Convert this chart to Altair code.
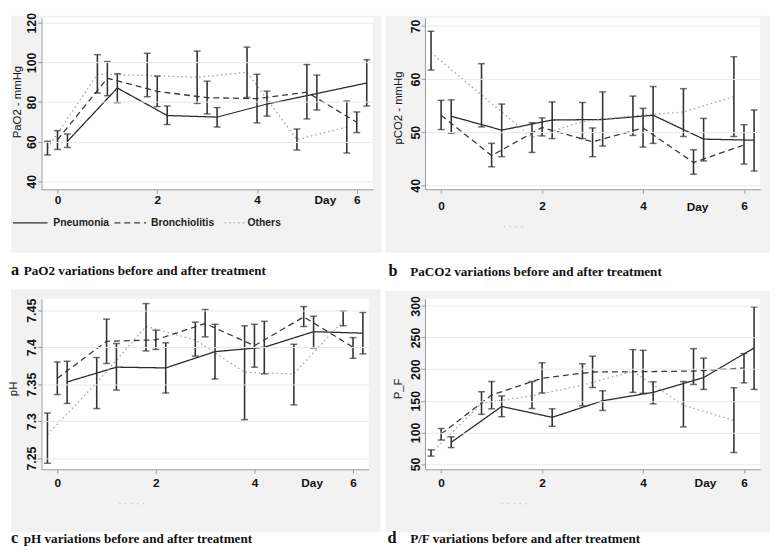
import altair as alt
import pandas as pd

days = [0, 1, 2, 3, 4, 5, 6]
groups = ["Pneumonia", "Bronchiolitis", "Others"]
offsets = {"Pneumonia": 0.2, "Bronchiolitis": 0.0, "Others": -0.2}

# ---- PaO2 ----
pao2_mean = {
    "Pneumonia": [60.2, 87.1, 73.2, 72.4, 79.0, 84.3, 89.6],
    "Bronchiolitis": [61.0, 92.0, 85.4, 82.2, 81.7, 85.0, 69.8],
    "Others": [56.8, 94.0, 93.4, 92.5, 95.0, 61.1, 67.4],
}
pao2_lo = {
    "Pneumonia": [57.1, 79.7, 68.7, 67.4, 72.9, 76.0, 78.0],
    "Bronchiolitis": [56.1, 83.2, 77.7, 74.0, 69.5, 71.5, 64.6],
    "Others": [53.3, 84.5, 82.7, 79.3, 82.3, 55.8, 54.3],
}
pao2_hi = {
    "Pneumonia": [63.9, 94.3, 78.0, 77.2, 85.5, 93.6, 101.4],
    "Bronchiolitis": [65.6, 100.4, 93.1, 90.5, 94.0, 98.9, 75.0],
    "Others": [60.2, 103.9, 104.6, 105.7, 107.7, 66.4, 80.5],
}

# ---- PaCO2 ----
paco2_mean = {
    "Pneumonia": [53.0, 50.4, 52.3, 52.4, 53.2, 48.7, 48.5],
    "Bronchiolitis": [53.2, 45.6, 50.9, 48.2, 50.8, 44.3, 47.6],
    "Others": [65.0, 57.0, 49.0, 52.0, 53.1, 53.8, 56.7],
}
paco2_lo = {
    "Pneumonia": [49.8, 45.4, 48.8, 47.4, 47.9, 44.6, 42.7],
    "Bronchiolitis": [50.5, 43.5, 49.3, 45.4, 47.2, 42.1, 44.0],
    "Others": [61.7, 51.0, 46.2, 48.8, 49.4, 49.2, 49.2],
}
paco2_hi = {
    "Pneumonia": [56.1, 55.3, 55.7, 57.6, 58.6, 52.6, 54.2],
    "Bronchiolitis": [56.0, 47.9, 52.7, 50.8, 54.5, 46.7, 51.4],
    "Others": [69.0, 62.9, 51.8, 55.6, 56.8, 58.2, 64.2],
}

# ---- pH ----
ph_mean = {
    "Pneumonia": [7.353, 7.373, 7.372, 7.394, 7.400, 7.421, 7.419],
    "Bronchiolitis": [7.358, 7.408, 7.410, 7.432, 7.402, 7.441, 7.400],
    "Others": [7.282, 7.352, 7.428, 7.410, 7.366, 7.364, 7.436],
}
ph_lo = {
    "Pneumonia": [7.324, 7.342, 7.338, 7.357, 7.364, 7.399, 7.391],
    "Bronchiolitis": [7.336, 7.378, 7.397, 7.414, 7.373, 7.428, 7.385],
    "Others": [7.243, 7.317, 7.395, 7.388, 7.302, 7.322, 7.429],
}
ph_hi = {
    "Pneumonia": [7.381, 7.405, 7.406, 7.431, 7.435, 7.442, 7.447],
    "Bronchiolitis": [7.380, 7.438, 7.423, 7.451, 7.431, 7.455, 7.413],
    "Others": [7.311, 7.386, 7.459, 7.434, 7.429, 7.404, 7.449],
}

# ---- P/F ----
pf_mean = {
    "Pneumonia": [84.3, 141.0, 123.8, 150.0, 163.3, 186.7, 233.5],
    "Bronchiolitis": [97.3, 159.1, 185.7, 195.5, 196.0, 197.0, 201.8],
    "Others": [67.0, 146.0, 158.0, 174.7, 196.6, 143.0, 119.0],
}
pf_lo = {
    "Pneumonia": [76.0, 124.8, 109.8, 134.7, 145.1, 168.0, 168.0],
    "Bronchiolitis": [87.9, 137.3, 162.3, 171.0, 161.7, 175.8, 178.4],
    "Others": [62.5, 128.5, 137.8, 142.0, 163.3, 108.7, 68.2],
}
pf_hi = {
    "Pneumonia": [93.1, 157.6, 137.3, 165.9, 180.0, 217.4, 298.4],
    "Bronchiolitis": [106.1, 180.5, 210.1, 220.5, 229.8, 232.4, 224.6],
    "Others": [72.4, 164.3, 180.5, 208.5, 230.9, 180.5, 170.6],
}

captions = {
    "a": "PaO2 variations before and after treatment",
    "b": "PaCO2 variations before and after treatment",
    "c": "pH variations before and after treatment",
    "d": "P/F variations before and after treatment",
}

SANS = "Liberation Sans"
SERIF = "Liberation Serif"
AXIS_C = "#9a9a9a"
BAR_C = "#333333"


def make_df(means, los, his):
    rows = []
    for g in groups:
        for d, m, l, h in zip(days, means[g], los[g], his[g]):
            rows.append(dict(group=g, day=d, x=d + offsets[g], mean=m, lo=l, hi=h))
    return pd.DataFrame(rows)


def one():
    return alt.Data(values=[{}])


def panel(df, w, h, ydom, yticks, yfmt, ytitle, ytitle_x, ytitle_y,
          lab_pad, day_x, day_y, gray, letter, letter_x, cap_x, cap_y,
          legend=False, artifact=None):
    xs = alt.Scale(domain=[-0.32, 6.32], nice=False, zero=False)
    ys = alt.Scale(domain=ydom, nice=False, zero=False)
    xaxis = alt.Axis(values=[0, 2, 4, 6], title="Day", titleX=day_x, titleY=day_y,
                     titleAngle=0, titleAlign="center", titleBaseline="middle",
                     titleFont=SANS, titleFontWeight="bold", titleFontSize=12,
                     titleColor="#111",
                     labelFont=SANS, labelFontWeight="bold", labelFontSize=12,
                     labelColor="#111", labelBaseline="middle", labelPadding=lab_pad,
                     tickSize=4, tickColor=AXIS_C, domainColor=AXIS_C, grid=False, zindex=1)
    yaxis = alt.Axis(values=yticks, format=yfmt, title=ytitle, titleX=ytitle_x, titleY=ytitle_y,
                     titleAngle=270, titleAlign="center", titleBaseline="middle",
                     titleFont=SANS, titleFontWeight="normal", titleFontSize=11.5,
                     titleColor="#111",
                     labelFont=SANS, labelFontWeight="bold", labelFontSize=12.5,
                     labelColor="#111", labelAngle=270, labelAlign="center",
                     labelBaseline="middle", labelPadding=6,
                     tickSize=4, tickColor=AXIS_C, domainColor=AXIS_C,
                     grid=True, gridColor="#e8e8e8", gridWidth=1, zindex=1)

    X = alt.X("x:Q", scale=xs, axis=xaxis)

    bg = alt.Chart(one()).mark_rect(color="#f2f2f2").encode(
        x=alt.value(gray[0]), x2=alt.value(gray[1]), y=alt.value(gray[2]), y2=alt.value(gray[3]))
    white = alt.Chart(one()).mark_rect(color="white").encode(
        x=alt.value(0), x2=alt.value(w), y=alt.value(0), y2=alt.value(h))

    base = alt.Chart(df)
    lines = base.mark_line(strokeWidth=1.3).encode(
        x=X,
        y=alt.Y("mean:Q", scale=ys, axis=yaxis),
        color=alt.Color("group:N", scale=alt.Scale(domain=groups, range=["#2b2b2b", "#3a3a3a", "#a0a0a0"]), legend=None),
        strokeDash=alt.StrokeDash("group:N", scale=alt.Scale(domain=groups, range=[[1, 0], [6, 4], [1.5, 3]]), legend=None),
    )
    rules = base.mark_rule(color=BAR_C, strokeWidth=1.6).encode(
        x=X, y=alt.Y("lo:Q", scale=ys, axis=yaxis), y2="hi:Q")
    cap_lo = base.mark_tick(orient="horizontal", size=7, thickness=1.5, color=BAR_C).encode(
        x=X, y=alt.Y("lo:Q", scale=ys, axis=yaxis))
    cap_hi = base.mark_tick(orient="horizontal", size=7, thickness=1.5, color=BAR_C).encode(
        x=X, y=alt.Y("hi:Q", scale=ys, axis=yaxis))

    letter_t = alt.Chart(one()).mark_text(font=SERIF, fontWeight="bold", fontSize=16.5, align="left",
                                          baseline="middle", color="#111", text=letter).encode(
        x=alt.value(letter_x), y=alt.value(cap_y - 1))
    cap_t = alt.Chart(one()).mark_text(font=SERIF, fontWeight="bold", fontSize=13.3, align="left",
                                       baseline="middle", color="#111", text=captions[letter]).encode(
        x=alt.value(cap_x), y=alt.value(cap_y))

    layers = [bg, white, lines, rules, cap_lo, cap_hi, letter_t, cap_t]

    if legend:
        ly = 208
        specs = [("Pneumonia", -29, 6, [1, 0], "#2b2b2b", 12),
                 ("Bronchiolitis", 74, 106, [6, 4], "#3a3a3a", 111),
                 ("Others", 186, 207, [1.5, 3], "#a0a0a0", 209)]
        for name, x0, x1, dash, col, tx in specs:
            layers.append(alt.Chart(one()).mark_rule(strokeDash=dash, color=col, strokeWidth=1.3).encode(
                x=alt.value(x0), x2=alt.value(x1), y=alt.value(ly)))
            layers.append(alt.Chart(one()).mark_text(font=SANS, fontWeight="bold", fontSize=10.5,
                                                     align="left", baseline="middle", color="#222",
                                                     text=name).encode(
                x=alt.value(tx), y=alt.value(ly)))
    if artifact:
        layers.append(alt.Chart(one()).mark_rule(strokeDash=[1, 5], color="#b0b0b0", strokeWidth=1).encode(
            x=alt.value(artifact[0]), x2=alt.value(artifact[1]), y=alt.value(artifact[2])))

    return alt.layer(*layers).properties(width=w, height=h)


pa = panel(make_df(pao2_mean, pao2_lo, pao2_hi), 336, 174, [36.0, 122.5], [40, 60, 80, 100, 120], "d",
           "PaO2 - mmHg", -24, 85, 6, 287.5, 10, (-31, 345, -2, 238), "a", -31, -18, 257, legend=True)
pb = panel(make_df(paco2_mean, paco2_lo, paco2_hi), 340, 174, [39.26, 71.54], [40, 50, 60, 70], "d",
           "pCO2 - mmHg", -27, 91, 12, 276, 18, (-40, 350, -2, 238), "b", -37, -15, 258,
           artifact=(80, 103, 212))
pc = panel(make_df(ph_mean, ph_lo, ph_hi), 332, 173, [7.2349, 7.4656], [7.25, 7.3, 7.35, 7.4, 7.45], "~g",
           "pH", -28, 91, 10, 274, 14, (-31, 344, -10, 237), "c", -31, -18, 244,
           artifact=(79, 104, 208))
pd_ = panel(make_df(pf_mean, pf_lo, pf_hi), 340, 173, [41.7, 311.4], [50, 100, 150, 200, 250, 300], "d",
            "P_F", -27, 91, 10, 284, 14, (-40, 350, -8, 237), "d", -38, -15, 244,
            artifact=(78, 107, 208))

chart = alt.concat(pa, pb, pc, pd_, columns=2, spacing={"row": 111, "column": 53},
                   bounds="flush").properties(
    padding=0, background="white"
).configure_view(stroke=None)

chart.save("out.html", embed_options={"renderer": "svg", "actions": False})
